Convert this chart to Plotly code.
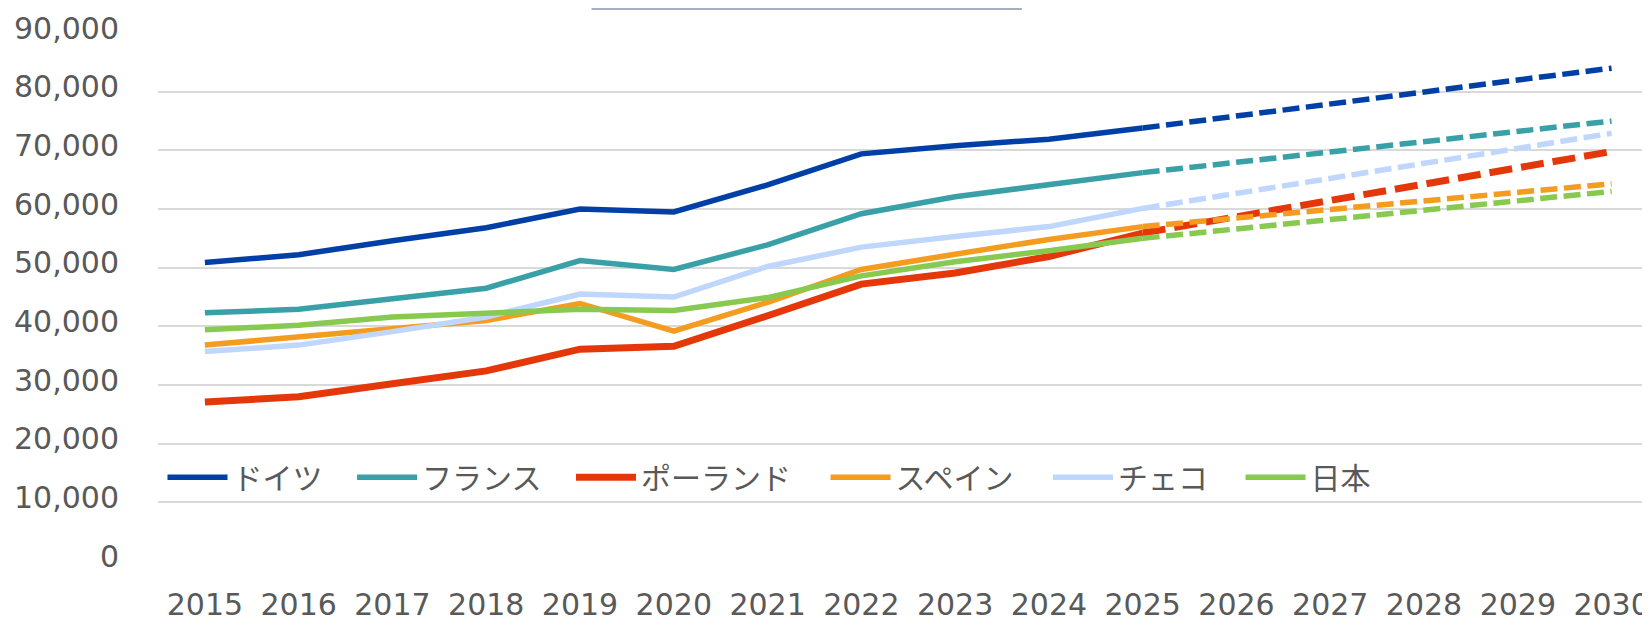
import plotly.graph_objects as go

years = [str(y) for y in range(2015, 2031)]
actual_years = years[:11]          # 2015-2025
forecast_years = years[10:]        # 2025-2030

names = ["ドイツ", "フランス", "ポーランド", "スペイン", "チェコ", "日本"]
colors = ["#0040A6", "#3AA0A8", "#E4380A", "#F39C1F", "#BFD6FD", "#88C94F"]

germany_actual = [50900, 52200, 54600, 56800, 60000, 59500, 64100, 69400, 70800, 71900, 73800]
germany_forecast = [73800, 75900, 77900, 79900, 82000, 84000]
france_actual = [42300, 42900, 44700, 46500, 51200, 49700, 53900, 59200, 62100, 64200, 66200]
france_forecast = [66200, 68000, 69700, 71500, 73200, 75000]
poland_actual = [27100, 28000, 30200, 32400, 36100, 36600, 41800, 47200, 49100, 51900, 55900]
poland_forecast = [55900, 58700, 61500, 64200, 67000, 69800]
spain_actual = [36800, 38200, 39700, 41000, 43900, 39200, 44100, 49700, 52300, 54800, 57000]
spain_forecast = [57000, 58500, 60000, 61500, 62900, 64300]
czech_actual = [35700, 36800, 39100, 41600, 45500, 45000, 50200, 53500, 55300, 57000, 60100]
czech_forecast = [60100, 62700, 65200, 67800, 70300, 72900]
japan_actual = [39400, 40200, 41600, 42300, 42900, 42700, 44900, 48600, 51000, 52900, 55000]
japan_forecast = [55000, 56600, 58200, 59800, 61400, 63000]

actuals = [germany_actual, france_actual, poland_actual, spain_actual, czech_actual, japan_actual]
forecasts = [germany_forecast, france_forecast, poland_forecast, spain_forecast, czech_forecast, japan_forecast]
widths = [5.5, 5.5, 7, 5.5, 5.5, 5.5]
dashes = ["17px,6.5px", "17px,6.5px", "23px,9px", "17px,6.5px", "17px,6.5px", "17px,6.5px"]

# extra spacing after each legend label (en space + no-break space + fine tuning)
legend_pads = ["\u2002\u00a0", "\u2002\u00a0", "\u2002\u00a0\u2006",
               "\u2002\u00a0\u2006", "\u2002\u00a0\u200a", "\u2002\u00a0"]

fig = go.Figure()
for name, col, vals, w, pad in zip(names, colors, actuals, widths, legend_pads):
    fig.add_trace(go.Scatter(x=actual_years, y=vals, name=name + pad, mode="lines",
                             line=dict(color=col, width=w), legendgroup=name))
for name, col, vals, w, d in zip(names, colors, forecasts, widths, dashes):
    fig.add_trace(go.Scatter(x=forecast_years, y=vals, name=name, mode="lines",
                             line=dict(color=col, width=w, dash=d), legendgroup=name,
                             showlegend=False))

font_family = "DejaVu Sans, Noto Sans CJK JP, sans-serif"

fig.update_layout(
    width=1650, height=618,
    margin=dict(l=150, r=0, t=25, b=65, pad=0, autoexpand=False),
    paper_bgcolor="white", plot_bgcolor="white",
    font=dict(family=font_family, size=30, color="#595959"),
    showlegend=True,
    legend=dict(orientation="h", x=0.003, xanchor="left", y=0.1587, yanchor="middle",
                font=dict(size=30, color="#595959"), itemwidth=60,
                bgcolor="rgba(0,0,0,0)", traceorder="normal"),
    xaxis=dict(type="category", categoryorder="array", categoryarray=years,
               range=[-0.5, 15.495], showgrid=False, showline=False, zeroline=False,
               automargin=False,
               ticks="", ticklabelstandoff=23, tickfont=dict(size=30, color="#595959")),
    yaxis=dict(range=[0, 90000], tickvals=list(range(0, 90001, 10000)), tickformat=",d",
               showgrid=True, gridcolor="#D9D9D9", gridwidth=2, zeroline=False, showline=False,
               automargin=False,
               ticks="", ticklabelstandoff=38, ticklabelshift=-5,
               tickfont=dict(size=30, color="#595959")),
    shapes=[dict(type="line", xref="paper", yref="paper", x0=0.289, x1=0.5759,
                 y0=1.0457, y1=1.0457, line=dict(color="#A6AFC2", width=2.4))],
)

fig.write_html("out.html")
